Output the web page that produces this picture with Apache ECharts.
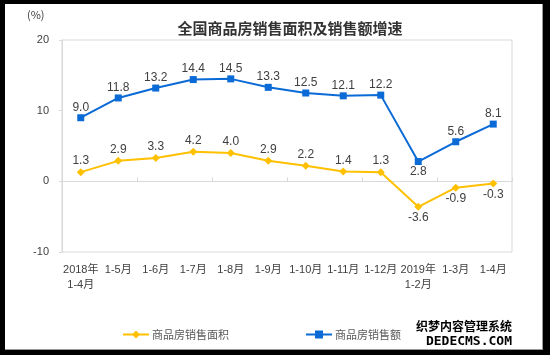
<!DOCTYPE html>
<html><head><meta charset="utf-8">
<script src="https://cdn.jsdelivr.net/npm/echarts@6/dist/echarts.min.js"></script>
<style>
html,body{margin:0;padding:0;background:#000;}
#outer{position:relative;width:550px;height:355px;background:#000;}
#chart{position:absolute;left:5px;top:4px;width:537px;height:345px;background:#fff;border-right:1px solid #9a9a9a;border-bottom:1px solid #9a9a9a;}
</style></head>
<body><div id="outer"><div id="chart"></div></div>
<script>
var categories = ['2018年\n1-4月','1-5月','1-6月','1-7月','1-8月','1-9月','1-10月','1-11月','1-12月','2019年\n1-2月','1-3月','1-4月'];
var areaGrowth = [1.3, 2.9, 3.3, 4.2, 4.0, 2.9, 2.2, 1.4, 1.3, -3.6, -0.9, -0.3];
var salesGrowth = [9.0, 11.8, 13.2, 14.4, 14.5, 13.3, 12.5, 12.1, 12.2, 2.8, 5.6, 8.1];
var yTicks = {min: -10, max: 20, interval: 10};
var titleText = '全国商品房销售面积及销售额增速';
var unitText = '(%)';
var seriesNames = ['商品房销售面积', '商品房销售额'];

var latin = '"Liberation Sans", Arial, "Noto Sans CJK SC", sans-serif';
var cjk = '"Noto Sans CJK SC", "Liberation Sans", sans-serif';

function labeled(arr, belowFn) {
  return arr.map(function (v, i) {
    return {value: v, label: {position: belowFn(v, i) ? 'bottom' : 'top'}};
  });
}

var chart = echarts.init(document.getElementById('chart'), null, {renderer: 'canvas'});
chart.setOption({
  animation: false,
  title: {text: titleText, left: 280, top: 12, textAlign: 'center',
    textStyle: {fontFamily: cjk, fontSize: 15, fontWeight: 'bold', color: '#333'}},
  grid: {left: 57, top: 36, right: 30, bottom: 97, show: true, borderColor: '#d9d9d9', borderWidth: 1},
  legend: {
    left: 112, top: 320, itemWidth: 26, itemHeight: 10, itemGap: 76,
    textStyle: {fontFamily: cjk, fontSize: 11, color: '#595959', padding: [0, 0, 0, -2]},
    data: seriesNames
  },
  xAxis: [{
    type: 'category', data: categories, boundaryGap: true,
    axisLine: {onZero: true, lineStyle: {color: '#d9d9d9'}},
    axisTick: {show: true, inside: true, length: 4, lineStyle: {color: '#d9d9d9'}},
    axisLabel: {show: false}
  }, {
    type: 'category', data: categories, position: 'bottom', boundaryGap: true,
    axisLine: {show: false, onZero: false}, axisTick: {show: false},
    axisLabel: {show: true, interval: 0, margin: 10, fontFamily: latin, fontSize: 11, color: '#404040', lineHeight: 15}
  }],
  yAxis: {
    type: 'value', min: yTicks.min, max: yTicks.max, interval: yTicks.interval,
    splitLine: {show: false},
    axisLine: {show: true, lineStyle: {color: '#d9d9d9'}},
    axisTick: {show: true, length: 3, lineStyle: {color: '#d9d9d9'}},
    axisLabel: {margin: 13, fontFamily: latin, fontSize: 11, color: '#404040'}
  },
  series: [{
    name: seriesNames[0], type: 'line', xAxisIndex: 0,
    data: labeled(areaGrowth, function (v) { return v < 0; }),
    symbol: 'diamond', symbolSize: 8,
    lineStyle: {color: '#FFC000', width: 2},
    itemStyle: {color: '#FFC000'},
    label: {show: true, distance: 1, fontFamily: latin, fontSize: 12, color: '#404040',
      formatter: function (p) { return p.value.toFixed(1); }}
  }, {
    name: seriesNames[1], type: 'line', xAxisIndex: 0,
    data: labeled(salesGrowth, function (v, i) { return i === 9; }),
    symbol: 'rect', symbolSize: 7,
    lineStyle: {color: '#0A6AD6', width: 2},
    itemStyle: {color: '#0A6AD6'},
    label: {show: true, distance: 1, fontFamily: latin, fontSize: 12, color: '#404040',
      formatter: function (p) { return p.value.toFixed(1); }}
  }],
  graphic: [
    {type: 'text', left: 22, top: 5, style: {text: unitText, font: '11px ' + cjk, fill: '#404040'}},
    {type: 'text', right: 30, top: 316, style: {text: '织梦内容管理系统', font: 'bold 12px ' + cjk, fill: '#000'}},
    {type: 'text', right: 30, top: 331, style: {text: 'DEDECMS.COM', font: 'bold 13px "DejaVu Sans Mono", monospace', fill: '#000'}}
  ]
});
</script></body></html>
